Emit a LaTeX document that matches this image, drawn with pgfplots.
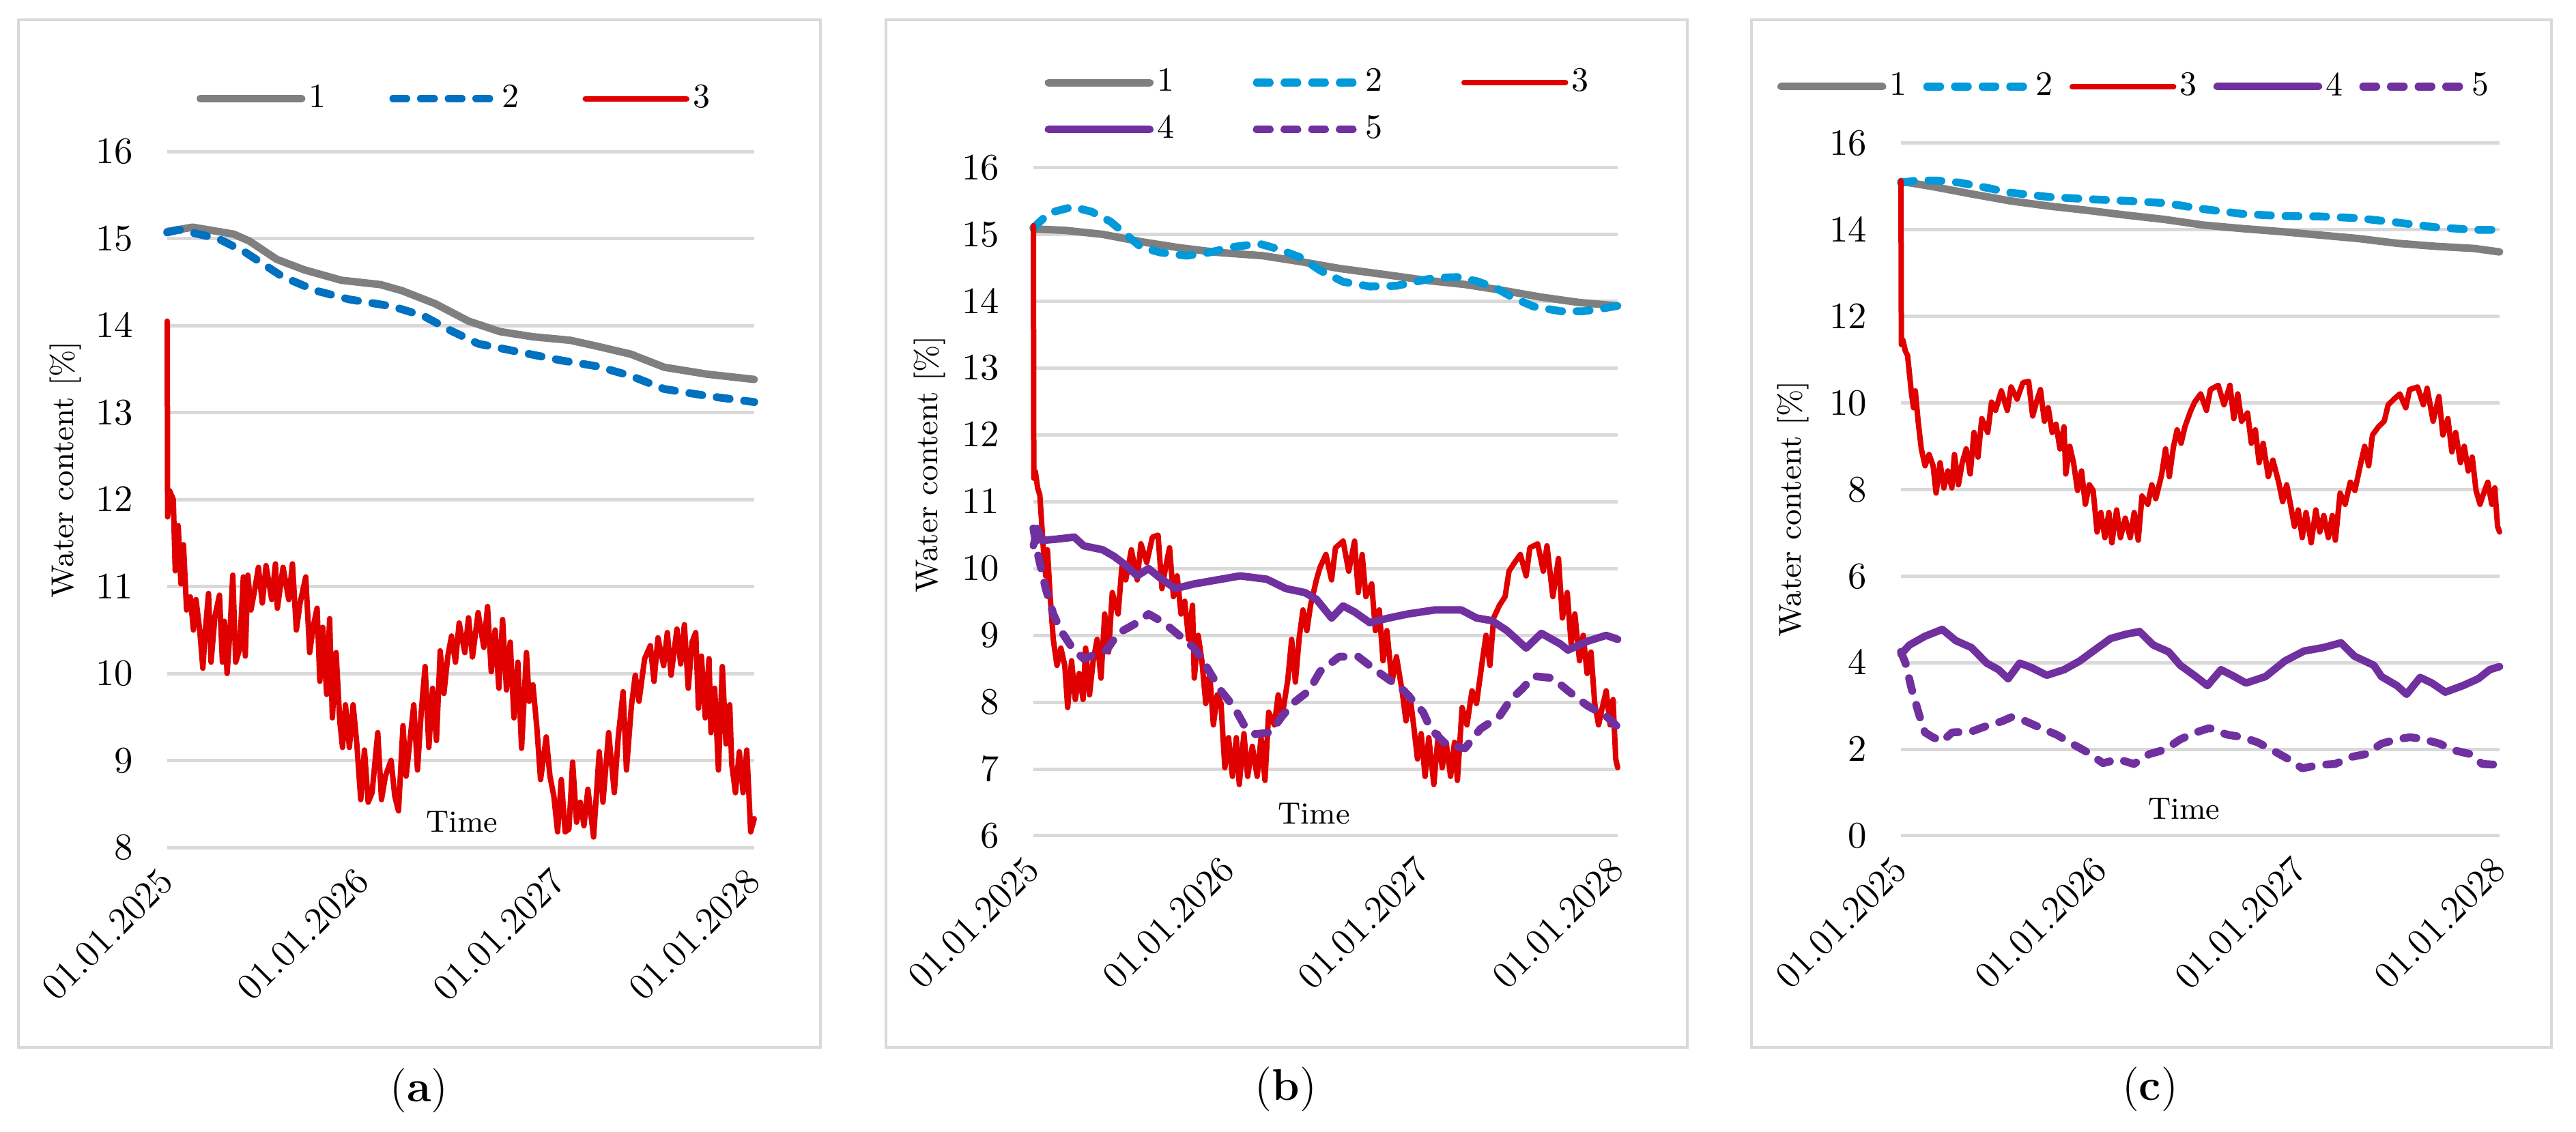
\documentclass[border=0pt]{standalone}
\usepackage{pgfplots}
\pgfplotsset{compat=1.18}
\usepackage{pgfplotstable}
\definecolor{gridgray}{HTML}{D9D9D9}
\definecolor{sgray}{HTML}{7F7F7F}
\definecolor{sblueA}{HTML}{0070C0}
\definecolor{sblueB}{HTML}{0099DA}
\definecolor{sred}{HTML}{E00000}
\definecolor{spurple}{HTML}{7030A0}

% ---------------- panel (a) ----------------
\pgfplotstableread{
t v
0 15.08
0.13 15.13
0.34 15.05
0.42 14.97
0.56 14.76
0.70 14.64
0.89 14.52
1.09 14.47
1.20 14.40
1.37 14.25
1.54 14.05
1.70 13.93
1.87 13.87
2.06 13.83
2.20 13.76
2.37 13.67
2.54 13.52
2.76 13.44
3.00 13.38
}\grayA
\pgfplotstableread{
t v
0 15.07
0.06 15.10
0.26 15.00
0.40 14.84
0.59 14.56
0.76 14.40
0.93 14.30
1.15 14.22
1.31 14.11
1.45 13.94
1.59 13.79
1.81 13.69
2.01 13.60
2.20 13.53
2.37 13.42
2.54 13.27
2.76 13.19
3.00 13.12
}\blueA
\pgfplotstableread{
t v
0 14.05
0.002 11.8
0.012 12.1
0.031 12.0
0.041 11.18
0.056 11.7
0.070 11.03
0.083 11.48
0.099 10.73
0.118 10.88
0.134 10.5
0.147 10.85
0.166 10.5
0.182 10.06
0.195 10.5
0.211 10.92
0.224 10.13
0.244 10.66
0.267 10.9
0.282 10.13
0.292 10.6
0.306 10.0
0.321 10.5
0.335 11.13
0.350 10.13
0.370 10.28
0.389 11.11
0.399 10.2
0.412 11.13
0.428 10.73
0.447 10.96
0.466 11.22
0.486 10.81
0.505 11.24
0.534 10.85
0.553 11.26
0.563 10.75
0.592 11.22
0.621 10.85
0.640 11.26
0.660 10.5
0.679 10.81
0.708 11.11
0.728 10.24
0.747 10.55
0.766 10.75
0.780 9.91
0.795 10.53
0.815 9.76
0.830 10.63
0.844 9.49
0.863 10.24
0.882 9.45
0.896 9.15
0.911 9.64
0.931 9.15
0.950 9.64
0.969 9.19
0.989 8.55
1.008 9.12
1.027 8.52
1.047 8.63
1.076 9.32
1.095 8.55
1.115 8.82
1.144 9.0
1.163 8.59
1.182 8.42
1.205 9.4
1.221 8.82
1.260 9.64
1.279 8.89
1.298 9.55
1.318 10.08
1.337 9.15
1.356 9.83
1.376 9.23
1.395 10.26
1.414 9.77
1.434 10.2
1.453 10.43
1.473 10.13
1.492 10.58
1.521 10.24
1.540 10.64
1.560 10.19
1.589 10.7
1.618 10.3
1.637 10.77
1.656 10.02
1.676 10.5
1.695 9.83
1.714 10.62
1.734 9.81
1.753 10.36
1.772 9.49
1.792 10.13
1.811 9.14
1.836 10.24
1.850 9.68
1.869 9.87
1.889 9.38
1.908 8.78
1.937 9.27
1.956 8.82
1.976 8.59
1.995 8.18
2.014 8.78
2.034 8.18
2.053 8.21
2.072 8.98
2.092 8.29
2.111 8.52
2.130 8.25
2.150 8.67
2.179 8.12
2.208 9.1
2.227 8.52
2.256 9.32
2.285 8.63
2.305 9.27
2.330 9.79
2.347 8.89
2.372 9.62
2.392 9.98
2.411 9.68
2.440 10.17
2.469 10.32
2.488 9.91
2.508 10.41
2.537 10.09
2.556 10.47
2.575 9.98
2.605 10.51
2.624 10.11
2.643 10.56
2.663 9.83
2.682 10.36
2.701 10.47
2.715 9.6
2.730 10.2
2.750 9.49
2.769 10.17
2.779 9.32
2.798 9.83
2.817 8.89
2.837 10.08
2.856 9.19
2.875 9.64
2.885 8.96
2.904 8.63
2.924 9.1
2.943 8.63
2.962 9.12
2.982 8.18
3.0 8.33
}\redA

% ---------------- panel (b) ----------------
\pgfplotstableread{
t v
0 15.08
0.161 15.06
0.356 15.00
0.552 14.89
0.748 14.80
0.944 14.73
1.179 14.68
1.375 14.59
1.570 14.49
1.825 14.39
2.021 14.31
2.216 14.25
2.412 14.16
2.608 14.06
2.804 13.98
3.0 13.93
}\grayB
\pgfplotstableread{
t v
0 15.10
0.082 15.32
0.200 15.41
0.298 15.34
0.396 15.19
0.474 15.00
0.552 14.81
0.650 14.73
0.787 14.68
0.905 14.73
1.022 14.81
1.159 14.86
1.257 14.78
1.375 14.65
1.472 14.46
1.590 14.29
1.727 14.22
1.864 14.23
1.962 14.29
2.060 14.35
2.177 14.36
2.275 14.30
2.373 14.20
2.471 14.04
2.569 13.92
2.706 13.85
2.823 13.85
2.902 13.88
3.0 13.93
}\blueB
\pgfplotstableread{
t v
0 10.34
0.020 10.6
0.043 10.42
0.121 10.44
0.210 10.47
0.258 10.34
0.356 10.28
0.415 10.18
0.474 10.05
0.533 9.89
0.591 10.0
0.650 9.86
0.728 9.70
0.826 9.77
0.944 9.83
1.061 9.89
1.198 9.84
1.296 9.70
1.394 9.64
1.453 9.54
1.531 9.26
1.590 9.44
1.649 9.35
1.727 9.19
1.825 9.26
1.923 9.32
2.060 9.38
2.197 9.38
2.275 9.26
2.354 9.22
2.432 9.07
2.530 8.81
2.608 9.03
2.706 8.87
2.745 8.78
2.843 8.91
2.941 9.0
3.0 8.94
}\purpleB
\pgfplotstableread{
t v
0 10.6
0.023 10.21
0.063 9.70
0.102 9.32
0.141 9.07
0.200 8.81
0.258 8.65
0.317 8.71
0.376 8.78
0.435 9.03
0.533 9.19
0.591 9.32
0.670 9.19
0.748 9.0
0.826 8.81
0.885 8.55
0.963 8.17
1.032 7.92
1.081 7.66
1.140 7.52
1.218 7.55
1.277 7.79
1.335 7.99
1.414 8.17
1.472 8.46
1.570 8.68
1.668 8.68
1.766 8.46
1.844 8.30
1.903 8.17
2.001 7.85
2.040 7.60
2.119 7.37
2.216 7.31
2.295 7.60
2.393 7.79
2.451 8.04
2.510 8.20
2.569 8.39
2.667 8.36
2.745 8.17
2.843 7.95
2.941 7.79
3.0 7.63
}\purpleDB

% red series 3 of panels (b) and (c)
\pgfplotstableread{
t v
0 15.13
0.002 11.35
0.010 11.45
0.022 11.2
0.033 11.1
0.053 10.21
0.063 9.89
0.072 10.28
0.086 9.58
0.102 8.94
0.121 8.55
0.141 8.81
0.161 8.55
0.176 7.92
0.196 8.62
0.215 8.04
0.235 8.43
0.255 8.04
0.268 8.81
0.288 8.11
0.307 8.62
0.327 8.94
0.347 8.36
0.366 9.32
0.386 8.75
0.405 9.64
0.435 9.32
0.454 10.02
0.474 9.83
0.503 10.28
0.533 9.83
0.552 10.37
0.582 10.09
0.611 10.47
0.640 10.50
0.660 9.70
0.679 10.02
0.699 10.31
0.719 9.58
0.738 9.89
0.758 9.32
0.777 9.51
0.797 8.94
0.817 9.45
0.826 8.36
0.846 9.0
0.865 8.62
0.885 7.98
0.905 8.43
0.924 7.66
0.944 8.11
0.963 7.98
0.983 7.02
1.002 7.47
1.022 6.89
1.042 7.47
1.057 6.77
1.081 7.53
1.100 6.89
1.124 7.34
1.149 6.89
1.169 7.47
1.189 6.83
1.208 7.85
1.237 7.66
1.257 8.11
1.277 7.79
1.306 8.33
1.326 8.94
1.345 8.30
1.365 8.97
1.384 9.38
1.404 9.07
1.423 9.45
1.453 9.83
1.472 10.02
1.502 10.21
1.531 9.83
1.551 10.31
1.590 10.41
1.619 9.96
1.649 10.41
1.668 9.64
1.688 10.21
1.707 9.58
1.737 9.77
1.756 9.07
1.776 9.38
1.795 8.62
1.815 9.07
1.841 8.30
1.864 8.68
1.893 8.17
1.913 7.72
1.933 8.11
1.952 7.66
1.972 7.15
1.991 7.53
2.011 6.89
2.030 7.47
2.056 6.77
2.079 7.53
2.099 7.02
2.119 7.40
2.142 6.89
2.162 7.40
2.177 6.83
2.201 7.92
2.226 7.66
2.252 8.17
2.275 7.98
2.305 8.62
2.324 9.0
2.344 8.55
2.363 9.26
2.393 9.45
2.422 9.58
2.442 9.96
2.471 10.09
2.500 10.21
2.530 9.89
2.549 10.31
2.589 10.37
2.618 9.96
2.637 10.34
2.667 9.58
2.696 10.15
2.716 9.26
2.741 9.64
2.761 8.87
2.780 9.32
2.804 8.62
2.823 9.0
2.843 8.43
2.863 8.75
2.882 7.98
2.902 7.66
2.921 7.92
2.941 8.17
2.961 7.66
2.976 8.04
2.990 7.15
3.0 7.02
}\redBC

% ---------------- panel (c) ----------------
\pgfplotstableread{
t v
0 15.12
0.159 15.00
0.353 14.83
0.547 14.67
0.741 14.55
0.935 14.45
1.129 14.34
1.322 14.24
1.516 14.11
1.710 14.03
1.904 13.96
2.098 13.88
2.292 13.80
2.486 13.69
2.680 13.62
2.874 13.57
3.0 13.49
}\grayC
\pgfplotstableread{
t v
0 15.09
0.081 15.14
0.178 15.14
0.295 15.09
0.411 14.99
0.547 14.86
0.741 14.76
0.935 14.71
1.129 14.67
1.322 14.62
1.516 14.48
1.710 14.37
1.904 14.32
2.098 14.31
2.292 14.27
2.486 14.17
2.680 14.06
2.874 14.00
3.0 14.00
}\blueC
\pgfplotstableread{
t v
0 4.20
0.043 4.41
0.120 4.61
0.207 4.77
0.275 4.51
0.353 4.35
0.430 3.99
0.489 3.84
0.537 3.63
0.595 3.99
0.653 3.89
0.731 3.71
0.818 3.84
0.896 4.04
0.973 4.30
1.051 4.56
1.129 4.66
1.196 4.72
1.264 4.41
1.342 4.25
1.400 3.94
1.478 3.68
1.536 3.47
1.604 3.84
1.671 3.68
1.729 3.53
1.827 3.68
1.924 4.04
2.020 4.27
2.117 4.35
2.205 4.46
2.273 4.15
2.370 3.94
2.408 3.68
2.486 3.47
2.534 3.27
2.602 3.66
2.661 3.53
2.728 3.32
2.816 3.47
2.893 3.63
2.951 3.84
3.0 3.91
}\purpleC
\pgfplotstableread{
t v
0 4.25
0.023 3.99
0.052 3.42
0.091 2.80
0.120 2.39
0.159 2.28
0.207 2.18
0.256 2.39
0.353 2.41
0.430 2.54
0.508 2.65
0.557 2.75
0.624 2.65
0.702 2.49
0.779 2.34
0.857 2.13
0.935 1.93
1.012 1.68
1.090 1.77
1.167 1.66
1.245 1.89
1.322 1.99
1.400 2.23
1.478 2.39
1.545 2.49
1.633 2.34
1.710 2.28
1.788 2.16
1.865 1.97
1.943 1.77
2.011 1.56
2.098 1.64
2.176 1.66
2.253 1.82
2.331 1.89
2.408 2.13
2.486 2.23
2.553 2.28
2.621 2.23
2.699 2.13
2.777 1.97
2.854 1.89
2.913 1.66
3.0 1.64
}\purpleDC

\pgfplotsset{
  panel/.style={
    scale only axis,
    anchor=south west,
    xmin=0, xmax=3,
    xtick={0,1,2,3},
    xticklabels={01.01.2025,01.01.2026,01.01.2027,01.01.2028},
    axis line style={draw=none},
    major tick length=0pt,
    ymajorgrids,
    grid style={gridgray, line width=1pt},
    yticklabel style={font=\fontsize{10.5}{12}\selectfont, anchor=east, xshift=-6.5pt},
    xticklabel style={font=\fontsize{11}{13}\selectfont, yshift=-8pt, rotate=45, anchor=east, inner sep=0pt},
    clip=false,
    xlabel={Time},
    ylabel={Water content [\%]},
    legend cell align=left,
    legend style={draw=none, fill=none, anchor=west, inner sep=0pt, outer sep=0pt,
      nodes={inner sep=1pt}, row sep=3.5pt,
      font=\fontsize{10}{12}\selectfont},
    legend image code/.code={\draw[#1] (0pt,0pt) -- (29.7pt,0pt);},
    every axis plot/.append style={line join=round, line cap=round},
  },
  s1/.style={sgray, line width=2.2pt},
  s2a/.style={sblueA, line width=2.3pt, dash pattern=on 3.8pt off 4.3pt},
  s2b/.style={sblueB, line width=2.3pt, dash pattern=on 3.8pt off 4.3pt},
  s3/.style={sred, line width=1.6pt},
  s4/.style={spurple, line width=2.2pt},
  s5/.style={spurple, line width=2.3pt, dash pattern=on 3.8pt off 4.3pt},
}

\begin{document}
\begin{tikzpicture}
\path[use as bounding box] (0pt,0pt) rectangle (754.8pt,331.8pt);

% frames
\draw[gridgray, line width=0.8pt] (5.4pt,24.8pt) rectangle (240.4pt,326pt);
\draw[gridgray, line width=0.8pt] (259.6pt,24.8pt) rectangle (494.4pt,326pt);
\draw[gridgray, line width=0.8pt] (513.2pt,24.8pt) rectangle (747.6pt,326pt);

% (a)
\begin{axis}[panel,
  at={(49pt,83.4pt)}, width=172pt, height=204pt,
  ymin=8, ymax=16, ytick={8,9,...,16},
  xlabel style={at={(axis description cs:0.502,0.037)}, anchor=center, font=\fontsize{9}{10.5}\selectfont},
  ylabel style={at={(axis description cs:-0.173,0.543)}, anchor=center, font=\fontsize{9.2}{10.5}\selectfont},
  legend columns=3,
  legend style={at={(axis description cs:0.05,1.076)},
    /tikz/every even column/.append style={column sep=17.6pt}},
]
\addplot[s1] table[x=t,y=v] {\grayA};
\addlegendentry{1}
\addplot[s2a] table[x=t,y=v] {\blueA};
\addlegendentry{2}
\addplot[s3] table[x=t,y=v] {\redA};
\addlegendentry{3}
\end{axis}

% (b)
\begin{axis}[panel,
  at={(302.8pt,86.8pt)}, width=171.2pt, height=195.9pt,
  ymin=6, ymax=16, ytick={6,7,...,16},
  xlabel style={at={(axis description cs:0.48,0.033)}, anchor=center, font=\fontsize{9}{10.5}\selectfont},
  ylabel style={at={(axis description cs:-0.178,0.556)}, anchor=center, font=\fontsize{9.2}{10.5}\selectfont},
  legend columns=3,
  legend style={at={(axis description cs:0.0193,1.0919)},
    /tikz/every even column/.append style={column sep=22.1pt}},
]
\addplot[s1] table[x=t,y=v] {\grayB};
\addlegendentry{1}
\addplot[s2b] table[x=t,y=v] {\blueB};
\addlegendentry{2}
\addplot[s3] table[x=t,y=v] {\redBC};
\addlegendentry{3}
\addplot[s4] table[x=t,y=v] {\purpleB};
\addlegendentry{4}
\addplot[s5] table[x=t,y=v] {\purpleDB};
\addlegendentry{5}
\end{axis}

% (c)
\begin{axis}[panel,
  at={(557pt,86.8pt)}, width=175.4pt, height=203pt,
  ymin=0, ymax=16, ytick={0,2,...,16},
  xlabel style={at={(axis description cs:0.473,0.039)}, anchor=center, font=\fontsize{9}{10.5}\selectfont},
  ylabel style={at={(axis description cs:-0.18,0.472)}, anchor=center, font=\fontsize{9.2}{10.5}\selectfont},
  legend columns=5,
  legend style={at={(axis description cs:-0.2064,1.0818)},
    /tikz/every even column/.append style={column sep=3.85pt}},
]
\addplot[s1] table[x=t,y=v] {\grayC};
\addlegendentry{1}
\addplot[s2b] table[x=t,y=v] {\blueC};
\addlegendentry{2}
\addplot[s3] table[x=t,y=v] {\redBC};
\addlegendentry{3}
\addplot[s4] table[x=t,y=v] {\purpleC};
\addlegendentry{4}
\addplot[s5] table[x=t,y=v] {\purpleDC};
\addlegendentry{5}
\end{axis}

% captions
\node[font=\fontsize{13}{15}\selectfont] at (122.8pt,12.2pt) {(\textbf{a})};
\node[font=\fontsize{13}{15}\selectfont] at (376.8pt,12.6pt) {(\textbf{b})};
\node[font=\fontsize{13}{15}\selectfont] at (630pt,12.6pt) {(\textbf{c})};
\end{tikzpicture}
\end{document}
